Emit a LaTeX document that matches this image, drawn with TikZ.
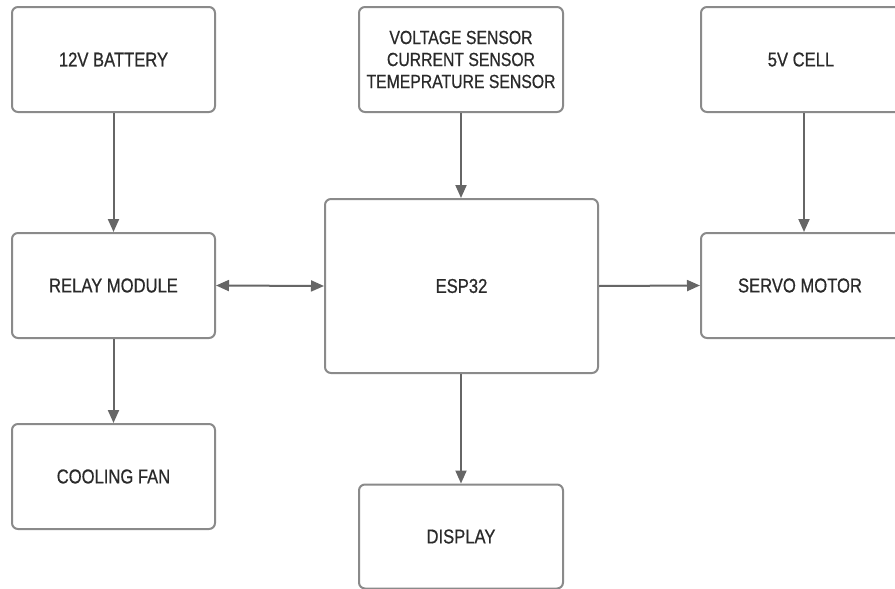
\documentclass[tikz,border=0pt]{standalone}
\usepackage{fontspec}
\setmainfont{Liberation Sans}[FakeStretch=0.83,FakeBold=0.6]
\usetikzlibrary{arrows.meta}
\definecolor{boxline}{HTML}{8A8A8A}
\definecolor{arrline}{HTML}{666666}
\definecolor{txt}{HTML}{2A2A2A}
\begin{document}
\begin{tikzpicture}[x=1pt,y=-1pt,
  blk/.style={draw=boxline, line width=2pt, rounded corners=6pt, fill=white,
    text=txt, font=\fontsize{20}{22}\selectfont, align=center, inner sep=0pt},
  conn/.style={draw=arrline, line width=2pt, -{Triangle[length=13pt,width=11pt]}},
  biconn/.style={draw=arrline, line width=2pt, {Triangle[length=13pt,width=11pt]}-{Triangle[length=13pt,width=11pt]}}]
\useasboundingbox[fill=white] (0,0) rectangle (895,589);
\node[blk, minimum width=203pt, minimum height=105pt] (bat) at (113.5,59.5) {12V BATTERY};
\node[blk, minimum width=204pt, minimum height=105pt, font=\fontsize{19}{22}\selectfont] (sens) at (461,59.5) {VOLTAGE SENSOR\\CURRENT SENSOR\\TEMEPRATURE SENSOR};
\node[blk, minimum width=206pt, minimum height=105pt] (cell) at (804,59.5) {\hspace*{-6pt}5V CELL};
\node[blk, minimum width=203pt, minimum height=105pt] (relay) at (113.5,285.5) {RELAY MODULE};
\node[blk, minimum width=273pt, minimum height=174pt] (esp) at (461.5,286) {ESP32};
\node[blk, minimum width=206pt, minimum height=105pt] (servo) at (804,285.5) {\hspace*{-8pt}SERVO MOTOR};
\node[blk, minimum width=203pt, minimum height=105pt] (fan) at (113.5,476.5) {COOLING FAN};
\node[blk, minimum width=204pt, minimum height=104pt] (disp) at (461,536.5) {DISPLAY};
\draw[conn] (bat.south) -- (relay.north);
\draw[conn] (sens.south) -- (sens.south |- esp.north);
\draw[conn] (cell.south) -- (servo.north);
\draw[biconn] (relay.east) -- (esp.west);
\draw[conn] (esp.east) -- (servo.west);
\draw[conn] (relay.south) -- (fan.north);
\draw[conn] (disp.north |- esp.south) -- (disp.north);
\end{tikzpicture}
\end{document}
